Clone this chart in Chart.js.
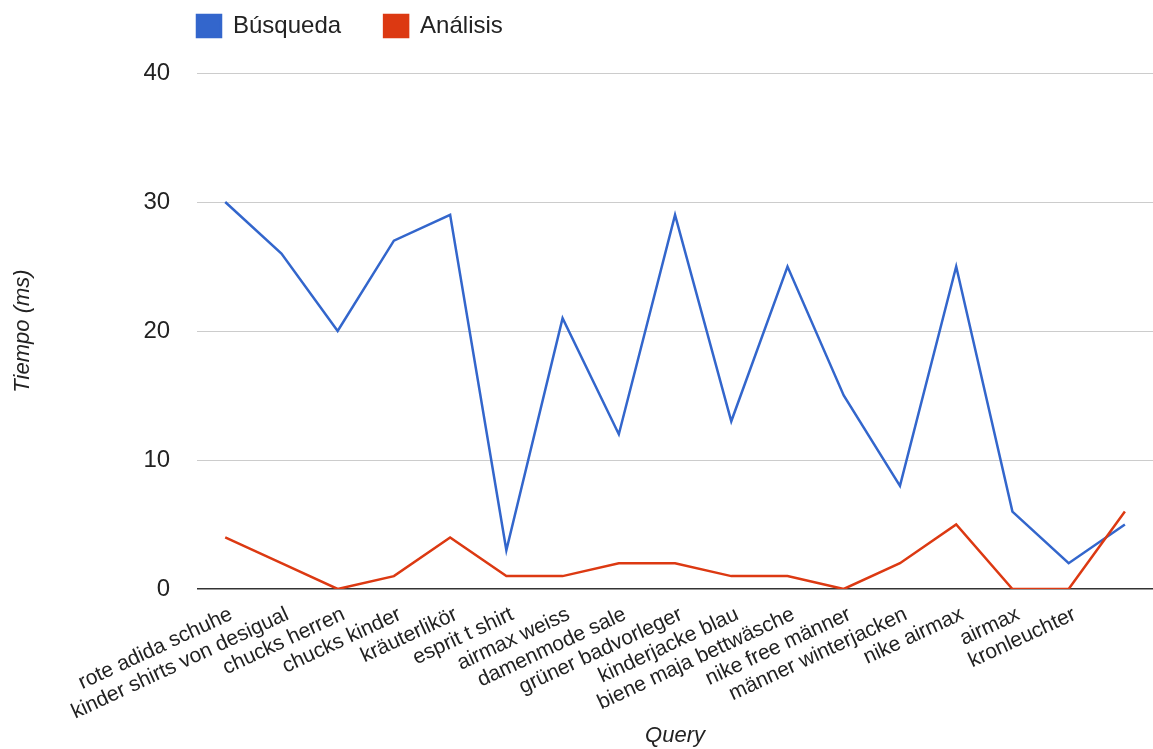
<!DOCTYPE html>
<html>
<head>
<meta charset="utf-8">
<script src="https://cdn.jsdelivr.net/npm/chart.js@4"></script>
<style>
  html, body { margin: 0; padding: 0; background: #fff; }
  #wrap { width: 1153px; height: 749px; }
</style>
</head>
<body>
<div id="wrap"><canvas id="grafico"></canvas></div>
<script>
// categorias del eje x (la ultima no tiene etiqueta en el original)
const consultas = [
    'rote adida schuhe', 'kinder shirts von desigual', 'chucks herren', 'chucks kinder',
    'kräuterlikör', 'esprit t shirt', 'airmax weiss', 'damenmode sale',
    'grüner badvorleger', 'kinderjacke blau', 'biene maja bettwäsche', 'nike free männer',
    'männer winterjacken', 'nike airmax', 'airmax', 'kronleuchter', ''
];
const busqueda = [30, 26, 20, 27, 29, 3, 21, 12, 29, 13, 25, 15, 8, 25, 6, 2, 5];
const analisis = [4, 2, 0, 1, 4, 1, 1, 2, 2, 1, 1, 0, 2, 5, 0, 0, 6];
const ticksY = [0, 10, 20, 30, 40];

const fuente = "'Liberation Sans', Arial, sans-serif";
const sepLeyenda = 43;

// mover la leyenda y fijar su alto
const ajusteLeyenda = {
    id: 'ajusteLeyenda',
    beforeInit(chart) {
        const fitOriginal = chart.legend.fit;
        chart.legend.fit = function () {
            fitOriginal.call(this);
            this.height = 69;
        };
    },
    beforeDraw(chart) {
        chart.legend.left = 197 - sepLeyenda;
        chart.legend.top = 14 - sepLeyenda;
    }
};

const ctx = document.getElementById('grafico').getContext('2d');
const myChart = new Chart(ctx, {
    type: 'line',
    data: {
        labels: consultas,
        datasets: [{
            label: 'Búsqueda',
            data: busqueda,
            borderColor: '#3366cc',
            backgroundColor: '#3366cc',
            borderWidth: 2.5,
            pointRadius: 0,
            tension: 0,
            order: 1
        }, {
            label: 'Análisis',
            data: analisis,
            borderColor: '#dc3912',
            backgroundColor: '#dc3912',
            borderWidth: 2.5,
            pointRadius: 0,
            tension: 0,
            order: 0
        }]
    },
    options: {
        responsive: true,
        maintainAspectRatio: false,
        animation: false,
        layout: { padding: { top: 4, right: 0, bottom: 0, left: 10 } },
        plugins: {
            legend: {
                position: 'top',
                align: 'start',
                labels: {
                    boxWidth: 24,
                    boxHeight: 22,
                    padding: sepLeyenda,
                    color: '#222',
                    font: { family: fuente, size: 24 },
                    sort: (a, b) => a.datasetIndex - b.datasetIndex
                }
            },
            tooltip: { enabled: false }
        },
        scales: {
            x: {
                offset: true,
                grid: { display: false },
                border: { display: false },
                afterFit: (scale) => {
                    scale.height = 160;
                },
                ticks: {
                    autoSkip: false,
                    minRotation: 25,
                    maxRotation: 25,
                    color: '#222',
                    padding: 5,
                    labelOffset: 6,
                    font: { family: fuente, size: 21 }
                },
                title: {
                    display: true,
                    text: 'Query',
                    color: '#222',
                    padding: { top: 4, bottom: 0 },
                    font: { family: fuente, size: 22, style: 'italic' }
                }
            },
            y: {
                min: 0,
                max: 40,
                afterBuildTicks: (axis) => {
                    axis.ticks = ticksY.map(v => ({ value: v }));
                },
                border: { display: false },
                grid: {
                    drawTicks: false,
                    color: (c) => c.tick && c.tick.value === 0 ? '#333' : '#cccccc',
                    lineWidth: (c) => c.tick && c.tick.value === 0 ? 1.5 : 1
                },
                ticks: {
                    color: '#222',
                    padding: 27,
                    font: { family: fuente, size: 24 }
                },
                title: {
                    display: true,
                    text: 'Tiempo (ms)',
                    color: '#222',
                    padding: { top: 0, bottom: 80 },
                    font: { family: fuente, size: 22, style: 'italic' }
                }
            }
        }
    },
    plugins: [ajusteLeyenda]
});
</script>
</body>
</html>
